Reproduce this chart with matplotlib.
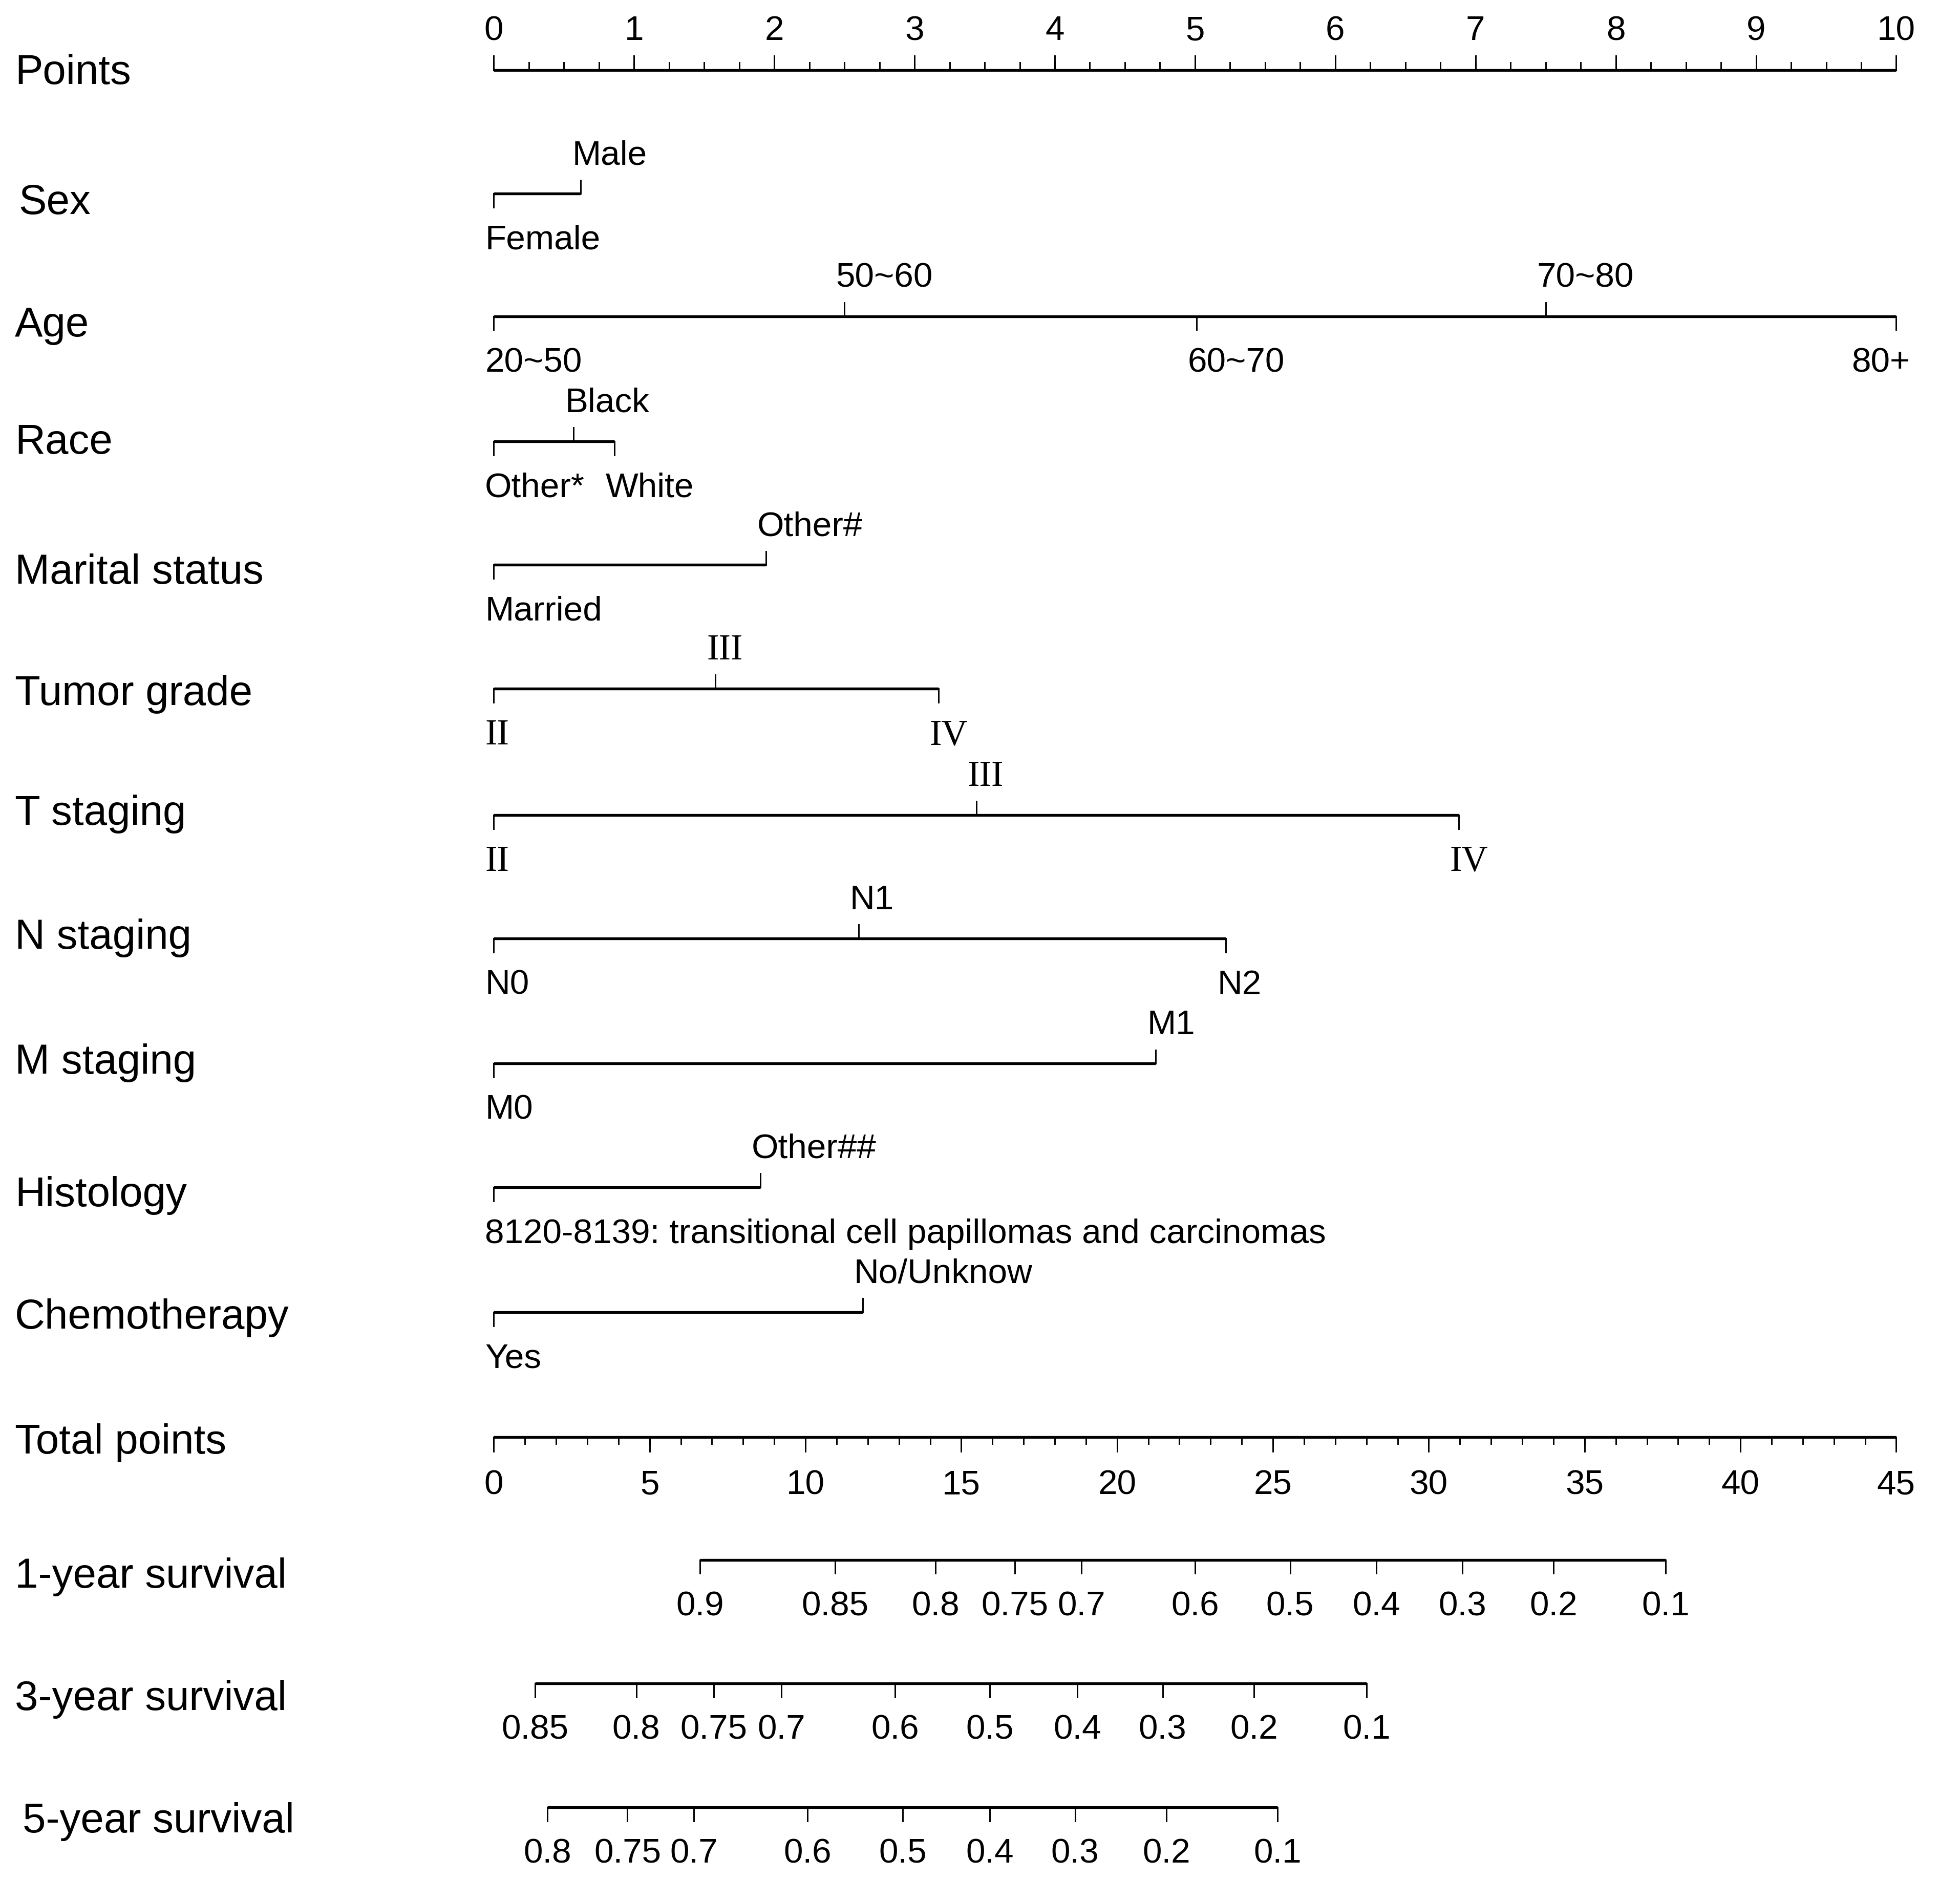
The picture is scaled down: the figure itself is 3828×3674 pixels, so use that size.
import numpy as np
import matplotlib.pyplot as plt
from matplotlib.transforms import blended_transform_factory

plt.rcParams['font.family'] = ['Liberation Sans', 'DejaVu Sans']

# Points scale (top)
points_major = np.arange(0, 11, 1)
points_minor = np.arange(0, 10.01, 0.25)

# Predictors: level labels and points for each level
sex_levels = ['Female', 'Male']
sex_points = [0, 0.62]
age_levels = ['20~50', '50~60', '60~70', '70~80', '80+']
age_points = [0, 2.50, 5.01, 7.50, 10.0]
race_levels = ['Other*', 'Black', 'White']
race_points = [0, 0.57, 0.86]
marital_levels = ['Married', 'Other#']
marital_points = [0, 1.94]
grade_levels = ['II', 'III', 'IV']
grade_points = [0, 1.58, 3.17]
tstage_levels = ['II', 'III', 'IV']
tstage_points = [0, 3.44, 6.88]
nstage_levels = ['N0', 'N1', 'N2']
nstage_points = [0, 2.60, 5.22]
mstage_levels = ['M0', 'M1']
mstage_points = [0, 4.72]
histology_levels = ['8120-8139: transitional cell papillomas and carcinomas', 'Other##']
histology_points = [0, 1.90]
chemo_levels = ['Yes', 'No/Unknow']
chemo_points = [0, 2.63]

# Total points scale
total_max = 45
total_major = np.arange(0, 46, 5)
total_minor = np.arange(0, 46, 1)

# Survival probabilities and the total points they sit at
surv1_labels = ['0.9', '0.85', '0.8', '0.75', '0.7', '0.6', '0.5', '0.4', '0.3', '0.2', '0.1']
surv1_total = [6.62, 10.95, 14.17, 16.72, 18.85, 22.50, 25.55, 28.32, 31.08, 34.00, 37.60]
surv3_labels = ['0.85', '0.8', '0.75', '0.7', '0.6', '0.5', '0.4', '0.3', '0.2', '0.1']
surv3_total = [1.32, 4.57, 7.06, 9.23, 12.88, 15.92, 18.73, 21.46, 24.39, 28.00]
surv5_labels = ['0.8', '0.75', '0.7', '0.6', '0.5', '0.4', '0.3', '0.2', '0.1']
surv5_total = [1.72, 4.29, 6.42, 10.07, 13.12, 15.92, 18.65, 21.58, 25.15]

# figure: 3828 x 3674 px; layout is worked out on a 1568 x 1505 grid
fig = plt.figure(figsize=(12.76, 12.2467), dpi=300)
ax = fig.add_axes([0, 0, 1, 1])
px = 112.2  # grid px per point
ax.set_xlim(-395 / px, (1568 - 395) / px)
ax.set_ylim(1505, 0)
ax.axis('off')

LW = 1.3
TLW = 0.7
TICK = 11
NAME_FS = 19.6
LAB_FS = 16.2
SHIFT = 2.5  # nudge text down a bit (grid px)
to_pts = 10 / total_max

name_tr = blended_transform_factory(ax.transAxes, ax.transData)


def row_name(y, text, dx=0):
    ax.text((12 + dx) / 1568, y + SHIFT, text, transform=name_tr, ha='left', va='center',
            fontsize=NAME_FS)


def factor_row(y, levels, pts, serif=False):
    ax.plot([min(pts), max(pts)], [y, y], color='k', lw=LW, solid_capstyle='butt')
    for i, (lab, p) in enumerate(zip(levels, pts)):
        up = i % 2 == 1
        ax.plot([p, p], [y, y - TICK if up else y + TICK], color='k', lw=TLW)
        dy = (19.3 if up else -20.5) - SHIFT * 0.586
        if p >= points_major[-1]:
            dx, ha = 6.4, 'right'
        else:
            dx, ha = -4.1, 'left'
        kw = dict(family=['Liberation Serif'], fontsize=17) if serif else dict(fontsize=LAB_FS)
        ax.annotate(lab, xy=(p, y), xytext=(dx, dy), textcoords='offset points',
                    ha=ha, va='center', **kw)


def survival_row(y, labels, totals):
    xs = [t * to_pts for t in totals]
    ax.plot([min(xs), max(xs)], [y, y], color='k', lw=LW, solid_capstyle='butt')
    for lab, x in zip(labels, xs):
        ax.plot([x, x], [y, y + TICK], color='k', lw=TLW)
        ax.text(x, y + 35 + SHIFT, lab, ha='center', va='center', fontsize=LAB_FS)


# Points
y = 56
row_name(y, 'Points')
ax.plot([0, 10], [y, y], color='k', lw=LW, solid_capstyle='butt')
for p in points_minor:
    ax.plot([p, p], [y, y - 6], color='k', lw=TLW)
for p in points_major:
    ax.plot([p, p], [y, y - 11.5], color='k', lw=TLW)
    ax.text(p, 22.5 + SHIFT, str(p), ha='center', va='center', fontsize=LAB_FS)

rows = [
    ('Sex', 155, 160, sex_levels, sex_points, False, 3),
    ('Age', 253, 258, age_levels, age_points, False, 0),
    ('Race', 353, 352, race_levels, race_points, False, 0),
    ('Marital status', 452, 456, marital_levels, marital_points, False, 0),
    ('Tumor grade', 551, 553, grade_levels, grade_points, True, 0),
    ('T staging', 652, 649, tstage_levels, tstage_points, True, 0),
    ('N staging', 751, 748, nstage_levels, nstage_points, False, 0),
    ('M staging', 851, 848, mstage_levels, mstage_points, False, 0),
    ('Histology', 950, 954, histology_levels, histology_points, False, 0),
    ('Chemotherapy', 1050, 1052, chemo_levels, chemo_points, False, 0),
]
for name, yl, yn, levels, pts, serif, dx in rows:
    row_name(yn, name, dx)
    factor_row(yl, levels, pts, serif)

# Total points
y = 1150
row_name(1152, 'Total points')
ax.plot([0, total_max * to_pts], [y, y], color='k', lw=LW, solid_capstyle='butt')
for t in total_minor:
    ax.plot([t * to_pts] * 2, [y, y + 5], color='k', lw=TLW)
for t in total_major:
    ax.plot([t * to_pts] * 2, [y, y + 11.5], color='k', lw=TLW)
    ax.text(t * to_pts, y + 36 + SHIFT, str(t), ha='center', va='center', fontsize=LAB_FS)

# Survival scales
row_name(1259, '1-year survival')
survival_row(1248, surv1_labels, surv1_total)
row_name(1357, '3-year survival')
survival_row(1347, surv3_labels, surv3_total)
row_name(1455, '5-year survival', 6)
survival_row(1446, surv5_labels, surv5_total)

fig.savefig('out.png', dpi=300, facecolor='white')
